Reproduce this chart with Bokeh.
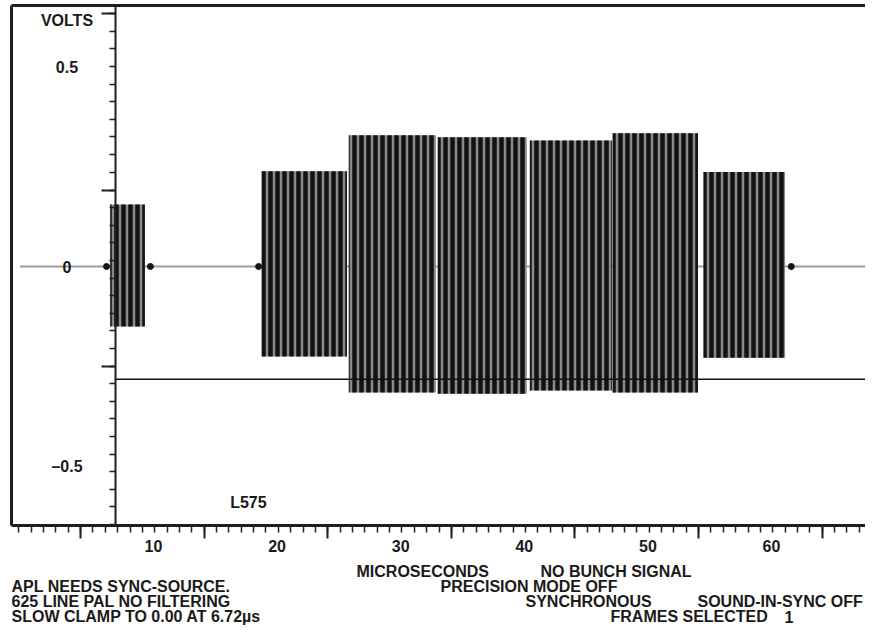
from bokeh.plotting import figure
from bokeh.layouts import column
from bokeh.models import Range1d, LinearAxis, FixedTicker
from bokeh.core.properties import value
from bokeh.embed import file_html
from bokeh.resources import INLINE

# ---------------- data (time in µs, level in volts) ----------------
trace_x = [-0.8, 69.0]          # blanking-level trace of the line
trace_y = [0.0, 0.0]

packet_names = ["burst", "bar1", "bar2", "bar3", "bar4", "bar5", "bar6"]
packet_start = [6.5, 18.75, 25.8, 33.0, 40.45, 47.15, 54.5]
packet_end = [9.3, 25.65, 32.85, 40.2, 47.1, 54.05, 61.1]
packet_top = [0.155, 0.238, 0.328, 0.323, 0.315, 0.333, 0.236]
packet_bottom = [-0.150, -0.225, -0.315, -0.318, -0.310, -0.315, -0.228]

edge_x = [6.2, 9.75, 18.5, 61.6]   # small blips at packet edges
edge_y = [0.0, 0.0, 0.0, 0.0]

ref_level_x = [6.9, 69.0]
ref_level_y = [-0.282, -0.282]

clamp_axis_us = 6.9

volt_labels = ["VOLTS", "0.5", "0", "\u20130.5"]
volt_label_y = [0.615, 0.5, 0.0, -0.5]
volt_label_x = [3.0, 3.0, 3.0, 3.0]

line_label = ["L575"]
line_label_x = [16.2]
line_label_y = [-0.59]

x_label_ticks = [10, 20, 30, 40, 50, 60]
x_major_ticks = [4.1, 14.1, 24.1, 34.1, 44.1, 54.1, 64.1]
x_minor_ticks = [-0.9, 0.1, 1.1, 2.1, 3.1, 4.1, 5.1, 6.1, 7.1, 8.1, 9.1, 10.1, 11.1, 12.1,
                 13.1, 14.1, 15.1, 16.1, 17.1, 18.1, 19.1, 20.1, 21.1, 22.1, 23.1, 24.1,
                 25.1, 26.1, 27.1, 28.1, 29.1, 30.1, 31.1, 32.1, 33.1, 34.1, 35.1, 36.1,
                 37.1, 38.1, 39.1, 40.1, 41.1, 42.1, 43.1, 44.1, 45.1, 46.1, 47.1, 48.1,
                 49.1, 50.1, 51.1, 52.1, 53.1, 54.1, 55.1, 56.1, 57.1, 58.1, 59.1, 60.1,
                 61.1, 62.1, 63.1, 64.1, 65.1, 66.1, 67.1]
y_major_ticks = [0.632, 0.191, -0.249]
y_minor_ticks = [0.632, 0.588, 0.544, 0.500, 0.456, 0.412, 0.368, 0.324, 0.280, 0.236,
                 0.191, 0.147, 0.103, 0.059, 0.015, -0.029, -0.073, -0.117, -0.161, -0.205,
                 -0.249, -0.293, -0.337, -0.381, -0.425, -0.469, -0.513, -0.557, -0.601, -0.645]

status_texts = ["MICROSECONDS", "NO BUNCH SIGNAL",
                "APL NEEDS SYNC-SOURCE.", "PRECISION MODE OFF",
                "625 LINE PAL NO FILTERING", "SYNCHRONOUS", "SOUND-IN-SYNC OFF",
                "SLOW CLAMP TO 0.00 AT 6.72\u00b5s", "FRAMES SELECTED", "1"]

# ---------------- layout / style (pixels) ----------------
status_px = [356, 540, 11, 440, 11, 525, 697, 11, 610, 784]
status_py = [571, 571, 586, 586, 601, 601, 601, 616, 616, 616]

FONT = "Liberation Sans"
INK = "#1a1a1a"
EDGE = "#1e1e1e"
FS = "16px"

Y0, Y1 = -0.6475, 0.6525
p = figure(width=865, height=560, output_backend="svg", toolbar_location=None,
           x_range=Range1d(-1.489, 67.605), y_range=Range1d(Y0, Y1),
           x_axis_location=None,
           min_border_left=11, min_border_right=0, min_border_top=5, min_border_bottom=35)
p.outline_line_color = None
p.grid.visible = False
p.background_fill_color = "white"
p.border_fill_color = "white"

# bottom edge of the box with 1 µs and 10 µs ticks
xt = LinearAxis(ticker=FixedTicker(ticks=x_major_ticks, minor_ticks=x_minor_ticks),
                axis_line_width=3, axis_line_color=EDGE,
                major_tick_out=13, major_tick_in=0, minor_tick_out=7, minor_tick_in=0,
                major_tick_line_width=2, minor_tick_line_width=1.5,
                major_tick_line_color=EDGE, minor_tick_line_color=EDGE,
                major_label_text_color=None, major_label_text_font_size="1px",
                major_label_standoff=0)
p.add_layout(xt, "below")

# microsecond numbers under the ticks
xl = LinearAxis(ticker=FixedTicker(ticks=x_label_ticks, minor_ticks=[]),
                axis_line_color=None, major_tick_line_color=None, minor_tick_line_color=None,
                major_tick_out=0, major_tick_in=0, minor_tick_out=0, minor_tick_in=0,
                major_label_standoff=1, major_label_text_font=FONT,
                major_label_text_font_style="bold", major_label_text_font_size=FS,
                major_label_text_color=INK)
p.add_layout(xl, "below")

# left edge of the box
ya = p.yaxis[0]
ya.ticker = FixedTicker(ticks=[], minor_ticks=[])
ya.axis_line_width = 3
ya.axis_line_color = EDGE
ya.major_tick_out = 0
ya.minor_tick_out = 0
ya.major_label_standoff = 0

# top edge of the box
top = LinearAxis(ticker=FixedTicker(ticks=[], minor_ticks=[]), axis_line_width=3,
                 axis_line_color=EDGE, major_tick_out=0, minor_tick_out=0,
                 major_label_standoff=0)
p.add_layout(top, "above")

# inner volts axis at the clamp point
yi = LinearAxis(fixed_location=clamp_axis_us,
                ticker=FixedTicker(ticks=y_major_ticks, minor_ticks=y_minor_ticks),
                axis_line_width=2, axis_line_color=EDGE,
                major_tick_out=14, major_tick_in=0, minor_tick_out=6, minor_tick_in=0,
                major_tick_line_width=2, minor_tick_line_width=1.5,
                major_tick_line_color=EDGE, minor_tick_line_color=EDGE,
                major_label_text_color=None)
p.add_layout(yi, "left")

# signal
p.line(trace_x, trace_y, line_color="#9d9d9d", line_width=2)
p.quad(left=packet_start, right=packet_end, top=packet_top, bottom=packet_bottom,
       fill_color="#8a8a8a", line_color=None,
       hatch_pattern="|", hatch_color="#121212", hatch_weight=4.5, hatch_scale=7)
p.scatter(edge_x, edge_y, marker="circle", size=6, color="#151515")
p.line(ref_level_x, ref_level_y, line_color="#111111", line_width=1.5)

# in-plot texts
p.text(x=volt_label_x, y=volt_label_y, text=volt_labels, text_font=value(FONT),
       text_font_style="bold", text_font_size=FS, text_align="center",
       text_baseline="middle", text_color=INK)
p.text(x=line_label_x, y=line_label_y, text=line_label, text_font=value(FONT),
       text_font_style="bold", text_font_size=FS, text_align="left",
       text_baseline="middle", text_color=INK)

# status lines under the display (pixel coordinates; frame aligned with the plot above)
s = figure(width=865, height=66, output_backend="svg", toolbar_location=None,
           x_range=Range1d(11, 865), y_range=Range1d(626, 560),
           x_axis_type=None, y_axis_type=None, min_border=0,
           min_border_left=11, min_border_right=0, min_border_top=0, min_border_bottom=0)
s.outline_line_color = None
s.grid.visible = False
s.background_fill_color = "white"
s.border_fill_color = "white"
s.text(x=status_px, y=status_py, text=status_texts, text_font=value(FONT),
       text_font_style="bold", text_font_size=FS, text_align="left",
       text_baseline="middle", text_color=INK)

open("out.html", "w").write(file_html(column(p, s, spacing=0), INLINE))
